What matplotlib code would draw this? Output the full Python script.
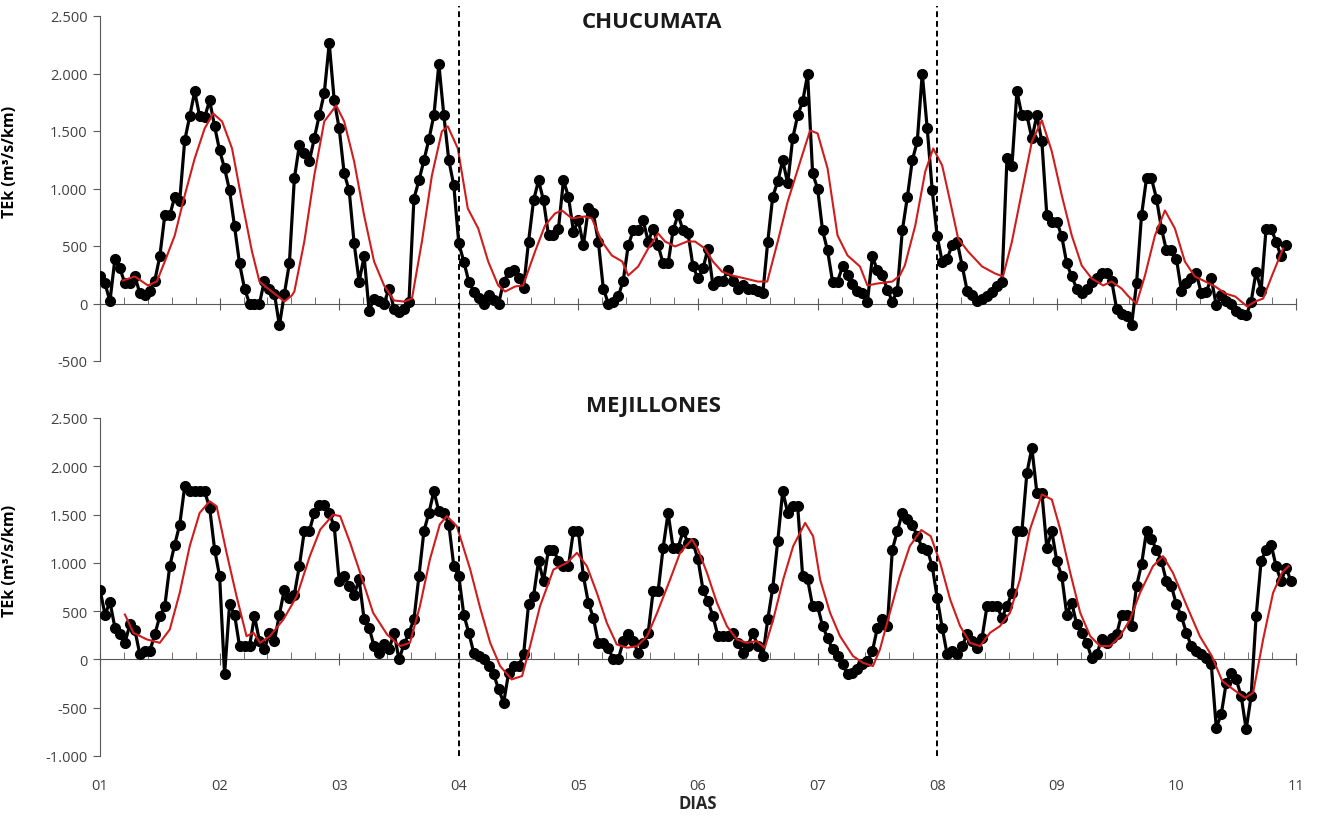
import numpy as np
import matplotlib
matplotlib.use("Agg")
import matplotlib.pyplot as plt
from matplotlib.ticker import MultipleLocator, FuncFormatter, NullLocator

plt.rcParams['font.family'] = ['Open Sans', 'DejaVu Sans']

# TEk hourly series (m3/s/km), one value per hour starting day 01 00h
chucumata = [235, 174, 20, 390, 305, 175, 175, 235, 90, 70,
             113, 200, 410, 766, 766, 930, 895, 1418, 1627, 1844,
             1627, 1620, 1766, 1540, 1331, 1175, 983, 670, 348, 130,
             0, 0, 0, 200, 130, 85, -190, 85, 348, 1087,
             1375, 1305, 1235, 1435, 1636, 1827, 2262, 1766, 1522, 1131,
             983, 522, 191, 409, -61, 43, 20, 0, 130, -44,
             -70, -44, 17, 913, 1070, 1244, 1427, 1636, 2080, 1636,
             1244, 1027, 522, 365, 191, 104, 50, 0, 70, 30,
             0, 191, 270, 287, 218, 139, 539, 896, 1070, 896,
             592, 592, 652, 1070, 930, 626, 722, 505, 827, 783,
             539, 130, 0, 17, 61, 200, 505, 635, 635, 722,
             539, 652, 505, 348, 348, 635, 774, 635, 609, 322,
             218, 305, 478, 157, 200, 200, 287, 200, 130, 157,
             130, 130, 110, 87, 539, 930, 1061, 1244, 1044, 1435,
             1636, 1757, 1992, 1131, 1000, 635, 461, 191, 191, 322,
             244, 170, 113, 87, 17, 409, 287, 244, 120, 17,
             113, 635, 922, 1244, 1410, 2000, 1522, 983, 583, 365,
             391, 505, 539, 330, 113, 70, 26, 43, 61, 100,
             150, 191, 1261, 1200, 1844, 1636, 1636, 1435, 1636, 1410,
             766, 713, 713, 583, 348, 235, 130, 87, 130, 190,
             218, 261, 261, 200, -44, -87, -113, -190, 174, 766,
             1087, 1087, 913, 652, 461, 461, 391, 113, 174, 218,
             261, 87, 104, 218, -17, 70, 26, 0, -61, -87,
             -104, 17, 278, 113, 652, 652, 539, 409, 505]

mejillones = [724, 465, 593, 328, 259, 172, 362, 303, 52, 86,
              86, 259, 448, 552, 966, 1190, 1397, 1793, 1741, 1741,
              1741, 1741, 1569, 1138, 862, -155, 569, 465, 138, 138,
              138, 448, 190, 103, 276, 190, 465, 724, 638, 672,
              966, 1328, 1328, 1517, 1603, 1603, 1517, 1379, 810, 862,
              759, 672, 828, 414, 328, 138, 69, 155, 103, 276,
              0, 155, 276, 414, 862, 1328, 1517, 1741, 1534, 1517,
              1397, 966, 862, 465, 276, 69, 35, 0, -69, -155,
              -310, -448, -138, -69, -69, 52, 569, 655, 1018, 810,
              1138, 1138, 1018, 966, 966, 1328, 1328, 862, 586, 431,
              172, 172, 121, 0, 0, 190, 259, 190, 69, 172,
              276, 707, 707, 1155, 1518, 1155, 1155, 1328, 1207, 1207,
              1035, 724, 603, 448, 241, 241, 241, 276, 172, 69,
              138, 276, 138, 35, 414, 741, 1224, 1742, 1518, 1587,
              1587, 862, 828, 552, 552, 345, 224, 103, 35, -52,
              -155, -138, -103, -52, -17, 86, 328, 414, 345, 1138,
              1328, 1518, 1449, 1397, 1276, 1155, 1138, 966, 638, 328,
              52, 86, 52, 138, 259, 190, 121, 224, 552, 552,
              552, 431, 552, 690, 1328, 1328, 1932, 2190, 1725, 1725,
              1155, 1328, 1018, 862, 465, 586, 362, 276, 172, 17,
              52, 207, 172, 224, 259, 465, 465, 345, 759, 983,
              1328, 1242, 1138, 1018, 810, 759, 569, 448, 276, 138,
              86, 52, 17, -52, -707, -569, -241, -138, -207, -379,
              -724, -379, 448, 1018, 1138, 1190, 966, 810, 948, 810]

# smoothed (red) curves: hour since day 01 00h, value
chuc_suav_h = [4.6, 7, 9.6, 11.4, 13, 15, 17, 19, 21, 22.7, 24.5, 26.5, 28.5, 30.5, 32,
               33.7, 35.5, 37, 38.5, 39, 41, 43, 45, 47.4, 49, 51, 53, 55, 57, 59, 61,
               62.6, 64.6, 66.6, 68.6, 69.8, 71.8, 73.8, 75.9, 77.9, 79.9, 81.3, 83.3,
               84.9, 87.3, 89.3, 91.3, 92.7, 94.7, 97.3, 98.7, 100.7, 102.7, 104.8, 106,
               108, 110, 112, 113.4, 115.4, 117.8, 119.4, 121.4, 123, 124.8, 126.8, 129.4,
               132, 133.9, 136, 138, 140.9, 142.5, 144, 146, 148, 150, 152.5, 154, 156,
               159, 160.5, 161.5, 163.6, 165.6, 167.2, 169, 170.6, 172.2, 174.2, 177,
               179.6, 181.2, 183, 185, 187, 189, 191, 193, 195, 197, 199, 201.3, 203,
               205, 206.4, 208, 209.7, 211.7, 213.7, 215.7, 217.7, 219.7, 221.8, 223.8,
               225.8, 227.8, 230.2, 231.8, 233.4, 235.2, 237.4]
chuc_suav = [200, 235, 157, 191, 365, 592, 940, 1261, 1522, 1653, 1583, 1348, 887, 452, 191,
             130, 70, 17, 70, 104, 539, 1113, 1583, 1722, 1583, 1235, 766, 365, 157, 26, 17,
             43, 539, 1113, 1496, 1540, 1348, 827, 652, 365, 157, 104, 148,
             157, 452, 678, 783, 809, 740, 757, 740, 539, 418, 365, 244,
             322, 478, 609, 539, 496, 539, 539, 478, 365, 278, 244, 218,
             191, 191, 539, 887, 1288, 1505, 1479, 1175, 592, 418, 322, 157, 174,
             191, 244, 330, 678, 1148, 1348, 1200, 887, 565, 452, 322,
             261, 235, 539, 974, 1409, 1592, 1322, 940, 592, 330, 218, 157, 191,
             130, 61, 0, 244, 592, 809, 652, 365, 235, 191, 148,
             87, 61, -26, 17, 43, 244, 478]

mej_suav_h = [5, 6.7, 9.4, 12, 14, 16, 18, 20, 22, 23.4, 25.4, 27.4, 29.4, 30.8, 32.1, 34.1,
              36.8, 39.5, 42.1, 44.2, 46.8, 48.2, 50.2, 52.2, 54.8, 57.6, 60.2, 62.2, 64.2,
              66.2, 68.2, 69.6, 71.6, 74.3, 76.3, 78.3, 80.3, 82.6, 84.7, 86.3, 88.3, 91,
              93.7, 95.7, 97.7, 99.7, 101.7, 103.7, 105.8, 107.8, 109.8, 111.8, 114.4, 116.4,
              118.8, 120, 121.8, 123.8, 125.8, 127.8, 129.8, 131.8, 133.4, 135.1, 137.1,
              139.1, 141.5, 143.1, 144.5, 146.5, 148.5, 151.1, 153.1, 155.1, 156.5, 158.5,
              160.5, 162.5, 164.8, 166.7, 168.6, 170.6, 172.6, 174.6, 176.6, 178.6, 180.6,
              182.6, 184.6, 186.6, 189, 191, 192.7, 194.7, 196.7, 198.7, 200.7, 202.7,
              204.7, 206.7, 208.7, 211.3, 213.3, 215.3, 218.1, 220.7, 223.1, 225.2, 227.4,
              229.8, 231.4, 233.4, 235.4, 237.2, 238.5]
mej_suav = [465, 276, 207, 172, 310, 690, 1173, 1517, 1638, 1586, 1104, 655, 241, 276, 172, 241,
            414, 655, 1069, 1345, 1500, 1483, 1207, 897, 483, 259, 138, 172, 552,
            1035, 1400, 1483, 1380, 930, 530, 172, -69, -207, -172, 138, 552, 931,
            1000, 1104, 966, 690, 379, 155, 121, 138, 241, 483, 828, 1104,
            1242, 1138, 897, 586, 345, 207, 172, 190, 121, 414, 828,
            1173, 1414, 1276, 828, 483, 241, 35, -35, -69, 103, 483,
            862, 1173, 1340, 1276, 1000, 621, 345, 172, 138, 276, 345,
            483, 828, 1345, 1708, 1656, 1345, 897, 483, 241, 138, 138,
            241, 414, 690, 966, 1069, 897, 552, 241, 35, -224, -310,
            -397, -345, 207, 690, 897, 966]

dias = list(range(1, 12))
dia_labels = ['%02d' % d for d in dias]
cortes = [4, 8]

W, H = 1318, 820
fig = plt.figure(figsize=(W / 100, H / 100), dpi=100)
ax1 = fig.add_axes([100 / W, 1 - 362 / H, 1196 / W, 345 / H])
ax2 = fig.add_axes([100 / W, 1 - 757 / H, 1196 / W, 338 / H])

gris = '#595959'
fmt = FuncFormatter(lambda v, p: '{:,.0f}'.format(v).replace(',', '.'))


def dibujar(ax, serie, suav_h, suav, ymin):
    x = 1 + np.arange(len(serie)) / 24.0
    ax.plot(x, serie, color='black', lw=2.3, marker='o', ms=7, zorder=3)
    ax.plot(1 + np.array(suav_h) / 24.0, suav, color='#d01c1c', lw=1.5, zorder=4)
    ax.set_xlim(1, 11)
    ax.set_ylim(ymin, 2500)
    ax.set_facecolor('none')
    for s in ['top', 'right']:
        ax.spines[s].set_visible(False)
    ax.spines['bottom'].set_position(('data', 0))
    ax.spines['bottom'].set_color(gris)
    ax.spines['left'].set_color(gris)
    ax.set_xticks(dias)
    ax.xaxis.set_minor_locator(MultipleLocator(0.2))
    ax.tick_params(axis='x', which='major', direction='inout', length=9,
                   color=gris, labelbottom=False)
    ax.tick_params(axis='x', which='minor', direction='in', length=5, color=gris)
    ax.set_yticks(np.arange(ymin, 2501, 500))
    ax.yaxis.set_major_formatter(fmt)
    ax.tick_params(axis='y', direction='out', length=5, color=gris,
                   labelsize=10.5, labelcolor='#404040', pad=4)
    ax.set_ylabel('TEk (m³/s/km)', fontsize=11.5, fontweight='bold')
    ax.yaxis.set_label_coords(-0.0686, 0.58)


dibujar(ax1, chucumata, chuc_suav_h, chuc_suav, -500)
dibujar(ax2, mejillones, mej_suav_h, mej_suav, -1000)

sec = ax2.secondary_xaxis('bottom')
sec.set_xticks(dias, dia_labels)
sec.xaxis.set_minor_locator(NullLocator())
sec.tick_params(length=0, pad=16, labelsize=10.5, labelcolor='#404040')
sec.spines['bottom'].set_visible(False)

# dashed separators crossing both panels
b = ax2.get_position()
ytop = ((1 - 7 / H) - b.y0) / b.height
for d in cortes:
    ax2.axvline(d, ymin=0, ymax=ytop, color='black', lw=1.4,
                ls=(0, (3, 2)), clip_on=False, zorder=5)

fig.text(652 / W, 1 - 22 / H, 'CHUCUMATA', ha='center', va='center',
         fontsize=16, fontweight='bold', color='#1a1a1a')
fig.text(653 / W, 1 - 407 / H, 'MEJILLONES', ha='center', va='center',
         fontsize=16, fontweight='bold', color='#1a1a1a')
fig.text(698 / W, 1 - 804 / H, 'DIAS', ha='center', va='center',
         fontsize=12, fontweight='bold', color='#262626')

fig.savefig('out.png', dpi=100)
